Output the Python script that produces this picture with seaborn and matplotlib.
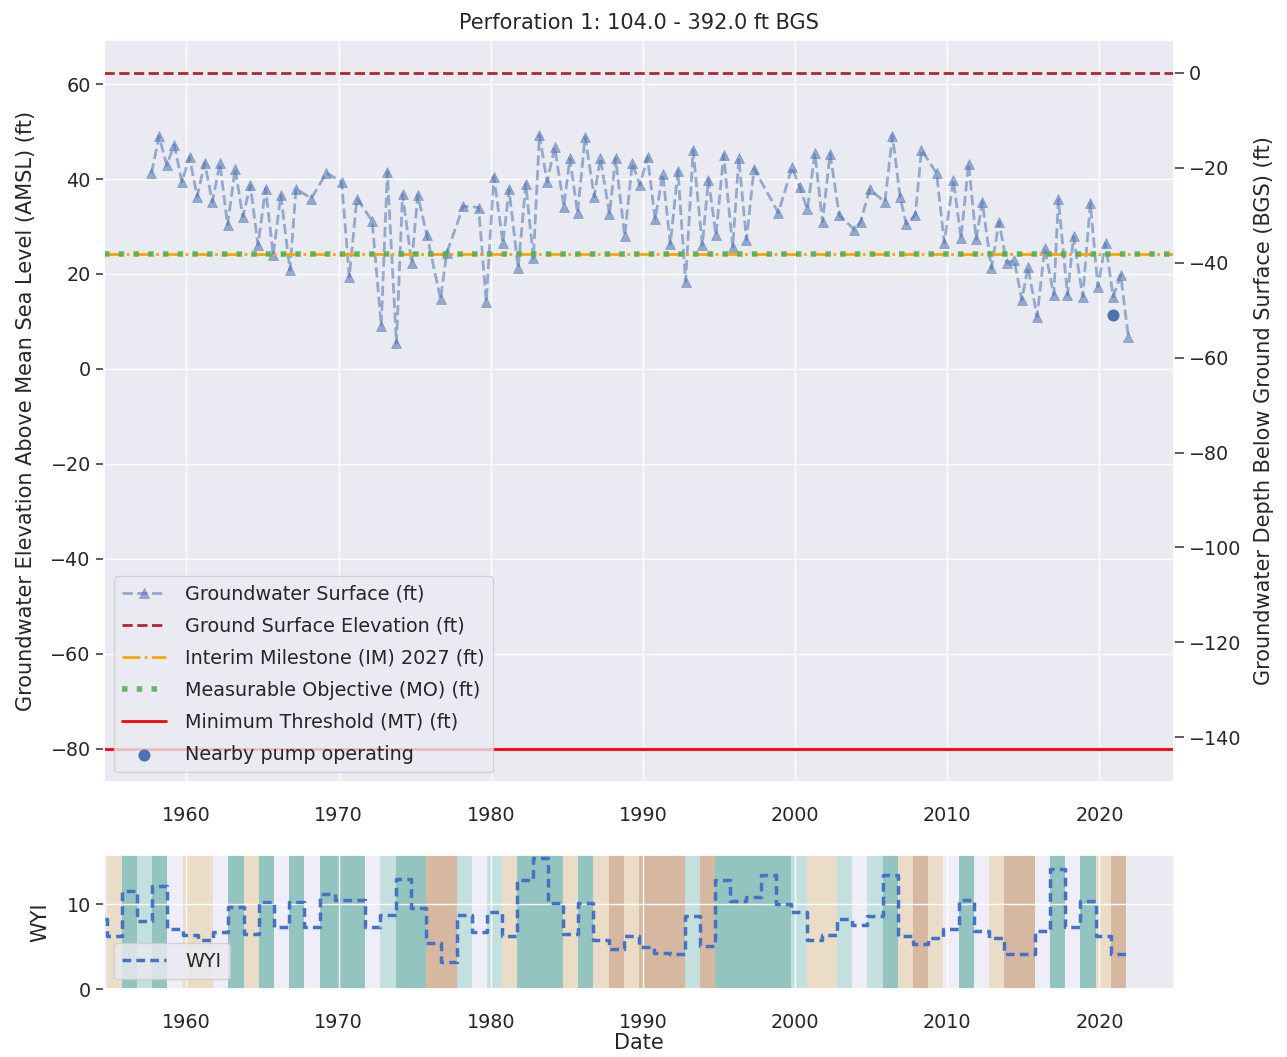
import numpy as np
import pandas as pd
import matplotlib
matplotlib.use("Agg")
import matplotlib.pyplot as plt
import seaborn as sns

# ---------------- data ----------------
title = "Perforation 1: 104.0 - 392.0 ft BGS"

gw_year = [1957.7, 1958.2, 1958.7, 1959.2, 1959.7, 1960.2, 1960.7, 1961.2, 1961.7, 1962.2,
           1962.7, 1963.2, 1963.7, 1964.2, 1964.7, 1965.2, 1965.7, 1966.2, 1966.8, 1967.2,
           1968.2, 1969.2, 1970.2, 1970.7, 1971.2, 1972.2, 1972.8, 1973.2, 1973.8, 1974.2,
           1974.8, 1975.2, 1975.8, 1976.7, 1977.1, 1978.2, 1979.2, 1979.7, 1980.2, 1980.8,
           1981.2, 1981.8, 1982.3, 1982.8, 1983.2, 1983.7, 1984.2, 1984.8, 1985.2, 1985.7,
           1986.2, 1986.8, 1987.2, 1987.8, 1988.2, 1988.8, 1989.3, 1989.8, 1990.3, 1990.8,
           1991.3, 1991.8, 1992.3, 1992.8, 1993.3, 1993.9, 1994.3, 1994.8, 1995.3, 1995.9,
           1996.3, 1996.8, 1997.3, 1998.9, 1999.8, 2000.3, 2000.8, 2001.3, 2001.8, 2002.3,
           2002.9, 2003.9, 2004.3, 2004.9, 2005.9, 2006.4, 2006.9, 2007.3, 2007.9, 2008.3,
           2009.3, 2009.8, 2010.4, 2010.9, 2011.4, 2011.9, 2012.3, 2012.9, 2013.4, 2013.9,
           2014.4, 2014.9, 2015.3, 2015.9, 2016.4, 2017.0, 2017.3, 2017.9, 2018.3, 2018.9,
           2019.4, 2019.9, 2020.4, 2020.9, 2021.4, 2021.9]
gw_elev = [41.2, 49.0, 42.9, 47.2, 39.4, 44.6, 36.3, 43.4, 35.2, 43.3,
           30.3, 42.2, 32.1, 38.7, 26.1, 38.0, 24.0, 36.6, 20.8, 38.0,
           35.9, 41.3, 39.4, 19.4, 35.9, 31.2, 9.1, 41.5, 5.4, 36.8,
           22.3, 36.6, 28.2, 14.7, 24.4, 34.3, 34.0, 14.2, 40.5, 26.5,
           37.8, 21.2, 38.9, 23.3, 49.3, 39.4, 46.7, 34.2, 44.4, 32.8,
           48.9, 36.3, 44.4, 32.6, 44.4, 28.0, 43.4, 38.7, 44.6, 31.5,
           41.1, 26.3, 41.8, 18.4, 46.1, 26.1, 39.9, 28.2, 45.1, 25.7,
           44.4, 27.2, 42.2, 32.9, 42.5, 38.3, 33.6, 45.4, 31.0, 45.3,
           32.4, 29.3, 31.0, 37.8, 35.2, 49.1, 36.3, 30.5, 32.4, 46.1,
           41.2, 26.6, 39.8, 27.5, 43.2, 27.3, 35.2, 21.2, 31.0, 22.3,
           22.9, 14.5, 21.5, 11.0, 25.4, 15.6, 35.7, 15.6, 27.9, 15.2,
           34.9, 17.3, 26.5, 15.2, 19.8, 6.7]

pump_year = [2020.9]
pump_elev = [11.4]

ground_surface = 62.4
im_2027 = 24.2
mo_level = 24.2
mt_level = -80.0

wy_year = list(range(1954, 2022))
wyi = [8.3, 6.2, 11.5, 8.0, 12.2, 7.1, 6.4, 5.8, 6.7, 9.7,
       6.5, 10.3, 7.3, 10.3, 7.3, 11.2, 10.5, 10.5, 7.3, 8.7,
       13.0, 9.5, 5.4, 3.2, 8.7, 6.7, 9.1, 6.2, 12.8, 15.4,
       10.1, 6.5, 10.1, 5.8, 4.7, 6.2, 4.9, 4.2, 4.1, 8.6,
       5.1, 12.9, 10.4, 10.9, 13.4, 10.0, 9.1, 5.8, 6.4, 8.3,
       7.5, 8.6, 13.4, 6.2, 5.3, 6.0, 7.1, 10.5, 6.9, 6.0,
       4.1, 4.1, 6.9, 14.2, 7.3, 10.4, 6.2, 4.1]
wy_type = [None, "D", "W", "AN", "W", "BN", "D", "D", "BN", "W",
           "D", "W", "BN", "W", "BN", "W", "W", "W", "BN", "AN",
           "W", "W", "C", "C", "AN", "BN", "AN", "D", "W", "W",
           "W", "D", "W", "D", "C", "D", "C", "C", "C", "AN",
           "C", "W", "W", "W", "W", "W", "AN", "D", "D", "AN",
           "BN", "AN", "W", "D", "C", "D", "BN", "W", "BN", "D",
           "C", "C", "BN", "W", "BN", "W", "D", "C"]

# ---------------- style ----------------
type_colors = {"W": "#93c4bf", "AN": "#c3e0df", "BN": "#efedf7",
               "D": "#eadcc7", "C": "#d6b8a1"}

sns.set_theme(style="darkgrid", font_scale=1.25)
plt.rcParams["font.family"] = ["DejaVu Sans"]
plt.rcParams["xtick.major.pad"] = 11

fig = plt.figure(figsize=(12.87, 10.57), dpi=100)
ax = fig.add_axes([0.0808, 0.2602, 0.8314, 0.702])
axw = fig.add_axes([0.0808, 0.0643, 0.8314, 0.1268])

xlim = (1954.58, 2024.9)
ylim = (-87.0, 69.3)
leg_kw = dict(loc="lower left", labelspacing=0.68, handletextpad=1.0,
              handlelength=2.3, borderpad=0.45)

# ---------------- main panel ----------------
gw = pd.DataFrame({"year": gw_year, "elev": gw_elev})
sns.lineplot(data=gw, x="year", y="elev", ax=ax, color="#4c72b0", alpha=0.55,
             linestyle="--", lw=2, marker="^", markersize=6.5,
             markeredgecolor="#4c72b0", markeredgewidth=0.5,
             label="Groundwater Surface (ft)")
ax.axhline(ground_surface, color="#b5262b", ls="--", lw=2,
           label="Ground Surface Elevation (ft)")
ax.axhline(im_2027, color="orange", ls="-.", lw=2,
           label="Interim Milestone (IM) 2027 (ft)")
ax.axhline(mo_level, color="#4daf4a", ls=":", lw=4, alpha=0.85,
           label="Measurable Objective (MO) (ft)")
ax.axhline(mt_level, color="red", ls="-", lw=2,
           label="Minimum Threshold (MT) (ft)")
sns.scatterplot(x=pump_year, y=pump_elev, ax=ax, color="#4c72b0", s=75,
                linewidth=0, label="Nearby pump operating", zorder=5)

ax.set_xlim(*xlim)
ax.set_ylim(*ylim)
ax.set_yticks(np.arange(-80, 61, 20))
ax.set_xticks(np.arange(1960, 2021, 10))
ax.set_xlabel("")
ax.set_ylabel("Groundwater Elevation Above Mean Sea Level (AMSL) (ft)",
              labelpad=10.5)
ax.set_title(title, pad=8)
ax.tick_params(axis="y", left=True, length=6, width=1.2, color="0.25")
ax.legend(**leg_kw)

ax2 = ax.twinx()
ax2.set_ylim(ylim[0] - ground_surface, ylim[1] - ground_surface)
ax2.set_yticks(np.arange(-140, 1, 20))
ax2.grid(False)
ax2.tick_params(axis="y", right=True, length=7, width=1.2, color="0.25")
ax2.set_ylabel("Groundwater Depth Below Ground Surface (BGS) (ft)", labelpad=9)

# ---------------- WYI panel ----------------
for yr, t in zip(wy_year, wy_type):
    if t is None:
        continue
    axw.axvspan(yr - 0.25, yr + 0.75, color=type_colors[t], lw=0, zorder=0.2)

step_x = [y - 0.25 for y in wy_year] + [wy_year[-1] + 0.75]
step_y = wyi + [wyi[-1]]
wdf = pd.DataFrame({"Date": step_x, "WYI": step_y})
sns.lineplot(data=wdf, x="Date", y="WYI", ax=axw, color="#4472c4", lw=2.5,
             linestyle=(0, (2.5, 1.5)), drawstyle="steps-post", label="WYI",
             zorder=3)
axw.set_xlim(*xlim)
axw.set_ylim(0, 15.8)
axw.set_yticks([0, 10])
axw.set_xticks(np.arange(1960, 2021, 10))
axw.set_xlabel("Date", labelpad=1)
axw.set_ylabel("WYI", labelpad=12)
axw.tick_params(axis="y", left=True, length=6, width=1.2, color="0.25")
axw.legend(**leg_kw)

fig.savefig("out.png", dpi=100)
